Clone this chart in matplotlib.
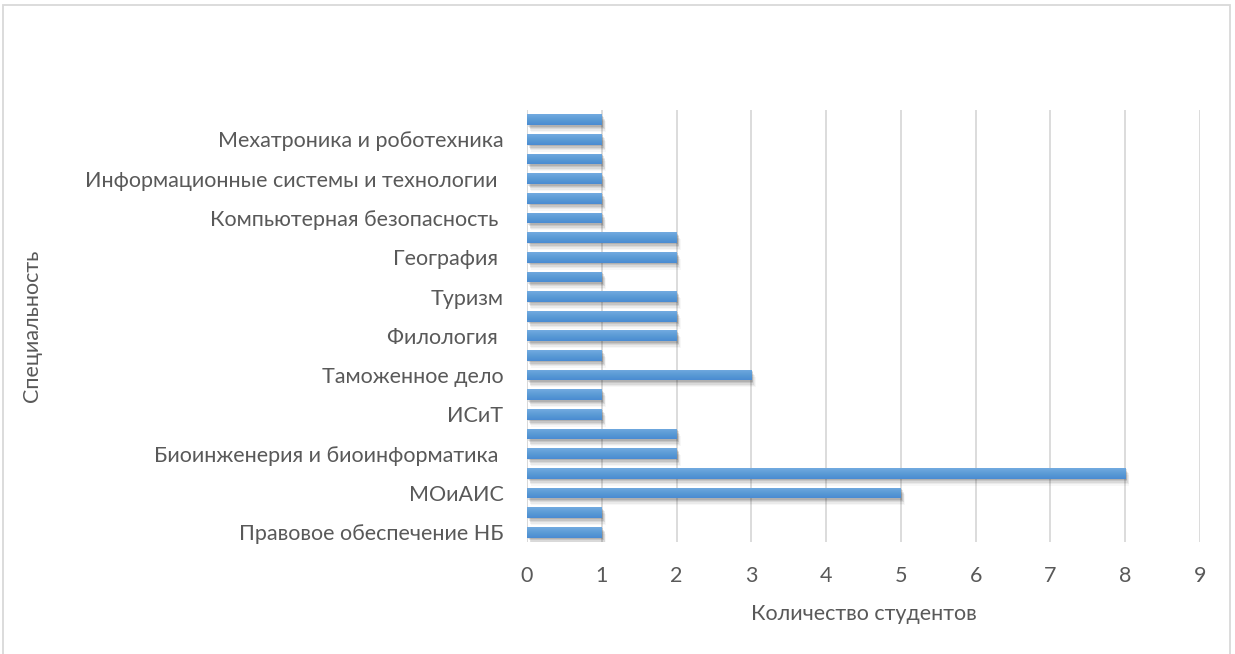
import numpy as np
import matplotlib.pyplot as plt
import matplotlib.patheffects as pe
from matplotlib.colors import LinearSegmentedColormap
from matplotlib.patches import Rectangle

plt.rcParams['font.family'] = ['Lato', 'DejaVu Sans']

# специальности снизу вверх; подписи у каждой второй строки
categories = [
    "Правовое обеспечение НБ", "",
    "МОиАИС", "",
    "Биоинженерия и биоинформатика ", "",
    "ИСиТ", "",
    "Таможенное дело", "",
    "Филология ", "",
    "Туризм", "",
    "География ", "",
    "Компьютерная безопасность ", "",
    "Информационные системы и технологии ", "",
    "Мехатроника и роботехника", "",
]
students = [1, 1, 5, 8, 2, 2, 1, 1, 3, 1, 2, 2, 2, 1, 2, 2, 1, 1, 1, 1, 1, 1]
x_ticks = list(range(0, 10))

text_col = '#595959'
grid_col = '#d9d9d9'
fs = 15.5

fig = plt.figure(figsize=(12.35, 6.54), dpi=100)
ax = fig.add_axes([527 / 1235, 1 - 542 / 654, 673 / 1235, 432 / 654])

y = np.arange(len(categories))
h = 0.55

bars = ax.barh(y, students, height=h, color='#5b9bd5', zorder=3)

# мягкая тень под столбиками
shadow = []
for dx, dy, a in [(3, -5, 0.03), (2.5, -4, 0.05), (2, -3, 0.07),
                  (1.5, -2, 0.09), (1, -1, 0.1)]:
    shadow.append(pe.SimplePatchShadow(offset=(dx, dy), shadow_rgbFace='black', alpha=a))
for b in bars:
    b.set_path_effects(shadow + [pe.Normal()])

# градиент внутри столбиков
cmap = LinearSegmentedColormap.from_list('bar', ['#4a8bd2', '#5b9bd5', '#72abe0'])
grad = np.linspace(0, 1, 64).reshape(-1, 1)
for yi, v, b in zip(y, students, bars):
    im = ax.imshow(grad, cmap=cmap, origin='lower', aspect='auto',
                   extent=[0, v, yi - h / 2, yi + h / 2], zorder=4)
    im.set_clip_path(b)

ax.set_xlim(0, 9)
ax.set_ylim(-0.5, len(categories) - 0.5)
ax.set_xticks(x_ticks)
ax.set_yticks(y)
ax.set_yticklabels(categories)
ax.xaxis.grid(True, color=grid_col, linewidth=1.3, zorder=0)
ax.set_axisbelow(True)
for s in ax.spines.values():
    s.set_visible(False)
ax.axvline(0, color=grid_col, linewidth=1.3, zorder=1)
ax.tick_params(axis='both', length=0, labelsize=fs, labelcolor=text_col)
ax.tick_params(axis='y', pad=17)
ax.tick_params(axis='x', pad=17)

ax.set_xlabel("Количество студентов", fontsize=fs, color=text_col, labelpad=13)
ax.set_ylabel("Специальность", fontsize=fs, color=text_col)
ax.yaxis.set_label_coords(-(527 - 42) / 673, 0.5)

fig.patches.append(Rectangle((3 / 1235, -0.05), 1227 / 1235, 1.05 - 5 / 654,
                             transform=fig.transFigure, fill=False,
                             edgecolor=grid_col, linewidth=1.3))

fig.savefig('out.png', dpi=100)
